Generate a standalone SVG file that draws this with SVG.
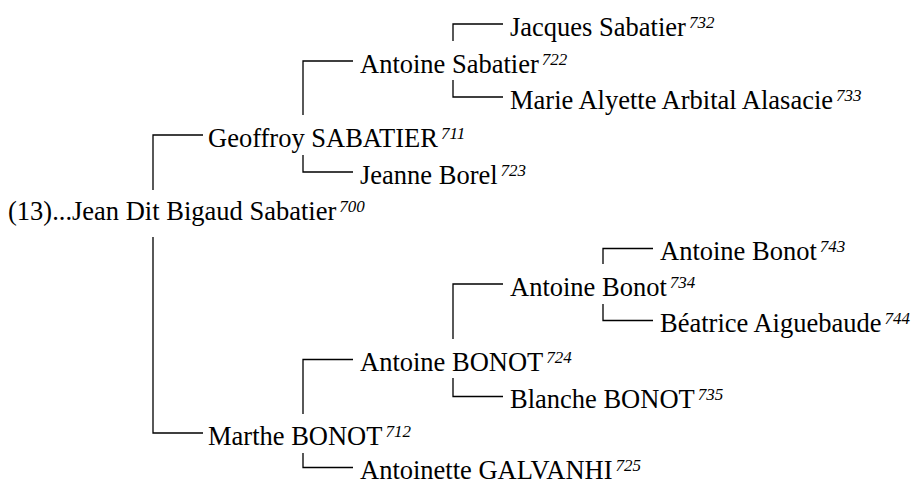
<svg xmlns="http://www.w3.org/2000/svg" width="917" height="486" viewBox="0 0 917 486">
<style>
text{font-family:'Liberation Serif','Times New Roman',Times,'DejaVu Serif',serif;font-size:26.5px;fill:#000}
tspan.s{font-style:italic;font-size:17px}
.c{fill:none;stroke:#000;stroke-width:1.3}
</style>
<rect width="917" height="486" fill="#fff"/>
<g id="connectors" class="c">
<path d="M203 135H153V190"/>
<path d="M153 237V433H203"/>
<path d="M353 61H303V115"/>
<path d="M303 155V172H353"/>
<path d="M503 24H453V41"/>
<path d="M453 80V97H503"/>
<path d="M353 359.5H303V414"/>
<path d="M303 453V467.5H353"/>
<path d="M503 284H453V339"/>
<path d="M453 378V396.5H503"/>
<path d="M653 248.5H603V264"/>
<path d="M603 304V320.5H653"/>
</g>
<g id="n700"><text x="8" y="220">(13)...Jean Dit Bigaud Sabatier<tspan class="s" dx="3" dy="-8">700</tspan></text></g>
<g id="n711"><text x="208" y="146.5">Geoffroy SABATIER<tspan class="s" dx="3" dy="-8">711</tspan></text></g>
<g id="n722"><text x="360" y="72.5">Antoine Sabatier<tspan class="s" dx="3" dy="-8">722</tspan></text></g>
<g id="n732"><text x="510" y="35.5">Jacques Sabatier<tspan class="s" dx="3" dy="-8">732</tspan></text></g>
<g id="n733"><text x="510" y="108.5">Marie Alyette Arbital Alasacie<tspan class="s" dx="3" dy="-8">733</tspan></text></g>
<g id="n723"><text x="360" y="183.5">Jeanne Borel<tspan class="s" dx="3" dy="-8">723</tspan></text></g>
<g id="n712"><text x="208" y="445">Marthe BONOT<tspan class="s" dx="3" dy="-8">712</tspan></text></g>
<g id="n724"><text x="360" y="371">Antoine BONOT<tspan class="s" dx="3" dy="-8">724</tspan></text></g>
<g id="n725"><text x="360" y="479">Antoinette GALVANHI<tspan class="s" dx="3" dy="-8">725</tspan></text></g>
<g id="n734"><text x="510" y="295.5">Antoine Bonot<tspan class="s" dx="3" dy="-8">734</tspan></text></g>
<g id="n735"><text x="510" y="408">Blanche BONOT<tspan class="s" dx="3" dy="-8">735</tspan></text></g>
<g id="n743"><text x="660" y="260">Antoine Bonot<tspan class="s" dx="3" dy="-8">743</tspan></text></g>
<g id="n744"><text x="660" y="332">Béatrice Aiguebaude<tspan class="s" dx="3" dy="-8">744</tspan></text></g>
</svg>
